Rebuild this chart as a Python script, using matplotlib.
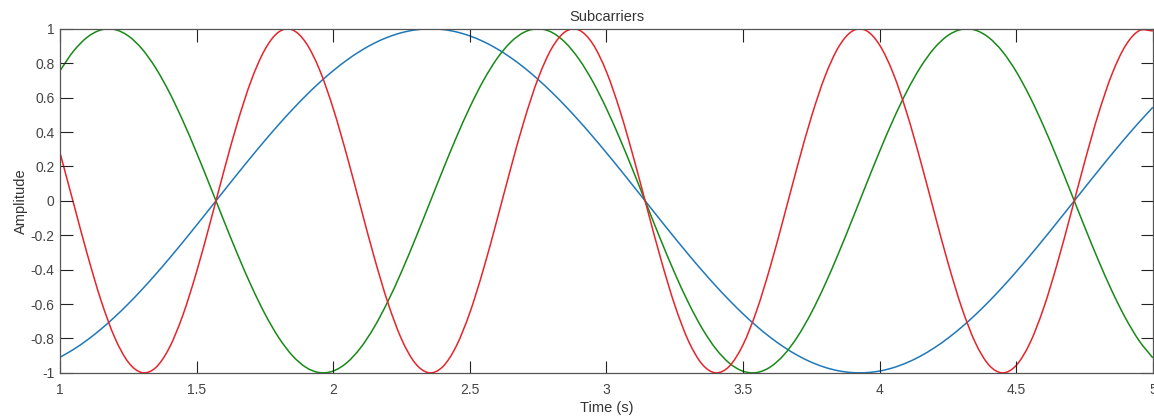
import numpy as np
import matplotlib
matplotlib.use('Agg')
import matplotlib.pyplot as plt
from matplotlib.path import Path
from matplotlib.patches import PathPatch

## sample times (s)
time_s = [1.00 + 0.05 * i for i in range(81)]
time_s = np.round(time_s, 2)

## subcarrier amplitudes (one value per sample time)
sub_blue = [-0.9093, -0.8632, -0.8085, -0.7457, -0.6755, -0.5985, -0.5155, -0.4274, -0.3350, -0.2392,
            -0.1411, -0.0416, 0.0584, 0.1577, 0.2555, 0.3508, 0.4425, 0.5298, 0.6119, 0.6878,
            0.7568, 0.8183, 0.8716, 0.9162, 0.9516, 0.9775, 0.9937, 0.9999, 0.9962, 0.9825,
            0.9589, 0.9258, 0.8835, 0.8323, 0.7728, 0.7055, 0.6313, 0.5507, 0.4646, 0.3739,
            0.2794, 0.1822, 0.0831, -0.0168, -0.1165, -0.2151, -0.3115, -0.4048, -0.4941, -0.5784,
            -0.6570, -0.7290, -0.7937, -0.8504, -0.8987, -0.9380, -0.9679, -0.9882, -0.9985, -0.9989,
            -0.9894, -0.9699, -0.9407, -0.9022, -0.8546, -0.7985, -0.7344, -0.6630, -0.5849, -0.5010,
            -0.4121, -0.3191, -0.2229, -0.1245, -0.0248, 0.0752, 0.1743, 0.2718, 0.3665, 0.4575,
            0.5440]

sub_green = [0.7568, 0.8716, 0.9516, 0.9937, 0.9962, 0.9589, 0.8835, 0.7728, 0.6313, 0.4646,
             0.2794, 0.0831, -0.1165, -0.3115, -0.4941, -0.6570, -0.7937, -0.8987, -0.9679, -0.9985,
             -0.9894, -0.9407, -0.8546, -0.7344, -0.5849, -0.4121, -0.2229, -0.0248, 0.1743, 0.3665,
             0.5440, 0.7001, 0.8281, 0.9230, 0.9812, 1.0000, 0.9797, 0.9193, 0.8228, 0.6936,
             0.5366, 0.3583, 0.1657, -0.0336, -0.2315, -0.4201, -0.5920, -0.7404, -0.8592, -0.9437,
             -0.9905, -0.9981, -0.9657, -0.8948, -0.7883, -0.6503, -0.4864, -0.3031, -0.1078, 0.0919,
             0.2879, 0.4724, 0.6381, 0.7783, 0.8876, 0.9614, 0.9969, 0.9926, 0.9489, 0.8673,
             0.7510, 0.6048, 0.4346, 0.2471, 0.0496, -0.1499, -0.3432, -0.5230, -0.6819, -0.8136,
             -0.9130]

sub_red = [0.2794, -0.0168, -0.3115, -0.5784, -0.7937, -0.9380, -0.9985, -0.9699, -0.8546, -0.6630,
           -0.4121, -0.1245, 0.1743, 0.4575, 0.7001, 0.8797, 0.9812, 0.9945, 0.9193, 0.7621,
           0.5366, 0.2632, -0.0336, -0.3274, -0.5920, -0.8038, -0.9437, -0.9993, -0.9657, -0.8458,
           -0.6503, -0.3968, -0.1078, 0.1909, 0.4724, 0.7118, 0.8876, 0.9840, 0.9926, 0.9126,
           0.7510, 0.5223, 0.2471, -0.0504, -0.3432, -0.6055, -0.8136, -0.9491, -0.9998, -0.9612,
           -0.8367, -0.6375, -0.3813, -0.0911, 0.2073, 0.4871, 0.7235, 0.8952, 0.9869, 0.9905,
           0.9056, 0.7399, 0.5079, 0.2307, -0.0672, -0.3591, -0.6189, -0.8234, -0.9544, -1.0000,
           -0.9564, -0.8273, -0.6243, -0.3656, -0.0742, 0.2239, 0.5018, 0.7351, 0.9026, 0.9895,
           0.9880]

x_ticks = [1, 1.5, 2, 2.5, 3, 3.5, 4, 4.5, 5]
x_tick_labels = ['1', '1.5', '2', '2.5', '3', '3.5', '4', '4.5', '5']
y_ticks = [-1, -0.8, -0.6, -0.4, -0.2, 0, 0.2, 0.4, 0.6, 0.8, 1]
y_tick_labels = ['-1', '-0.8', '-0.6', '-0.4', '-0.2', '0', '0.2', '0.4', '0.6', '0.8', '1']

plt.rcParams['font.family'] = ['Liberation Sans', 'DejaVu Sans']


## smooth line through the read points (catmull-rom drawn as bezier segments)
def smooth_line(ax, xs, ys, color, lw):
    p = np.column_stack([xs, ys]).astype(float)
    p_ext = np.vstack([2 * p[0] - p[1], p, 2 * p[-1] - p[-2]])
    verts = [p[0]]
    codes = [Path.MOVETO]
    for i in range(1, len(p_ext) - 2):
        p0, p1, p2, p3 = p_ext[i - 1], p_ext[i], p_ext[i + 1], p_ext[i + 2]
        verts += [p1 + (p2 - p0) / 6.0, p2 - (p3 - p1) / 6.0, p2]
        codes += [Path.CURVE4] * 3
    patch = PathPatch(Path(verts, codes), facecolor='none', edgecolor=color,
                      linewidth=lw, transform=ax.transData, clip_on=True)
    ax.add_patch(patch)


fig = plt.figure(figsize=(11.54, 4.18), dpi=100)
ax = fig.add_axes([0.052, 0.108, 0.947, 0.823])

smooth_line(ax, time_s, sub_blue, '#1f78b8', 1.1)
smooth_line(ax, time_s, sub_green, '#168a16', 1.1)
smooth_line(ax, time_s, sub_red, '#e8232a', 1.1)

ax.set_xlim(1, 5)
ax.set_ylim(-1, 1)
ax.set_xticks(x_ticks)
ax.set_xticklabels(x_tick_labels)
ax.set_yticks(y_ticks)
ax.set_yticklabels(y_tick_labels)
ax.tick_params(direction='in', top=True, right=True, length=9, width=0.8,
               labelsize=10, colors='#222222', labelcolor='#444444', pad=4)
ax.tick_params(axis='x', pad=7)
for sp in ax.spines.values():
    sp.set_color('#555555')
    sp.set_linewidth(0.9)

ax.set_title('Subcarriers', fontsize=10.5, color='#333333', pad=6)
ax.set_xlabel('Time (s)', fontsize=10.5, color='#333333', labelpad=3)
ax.set_ylabel('Amplitude', fontsize=10.5, color='#333333', labelpad=2)

fig.savefig('out.png', dpi=100)
plt.close(fig)
